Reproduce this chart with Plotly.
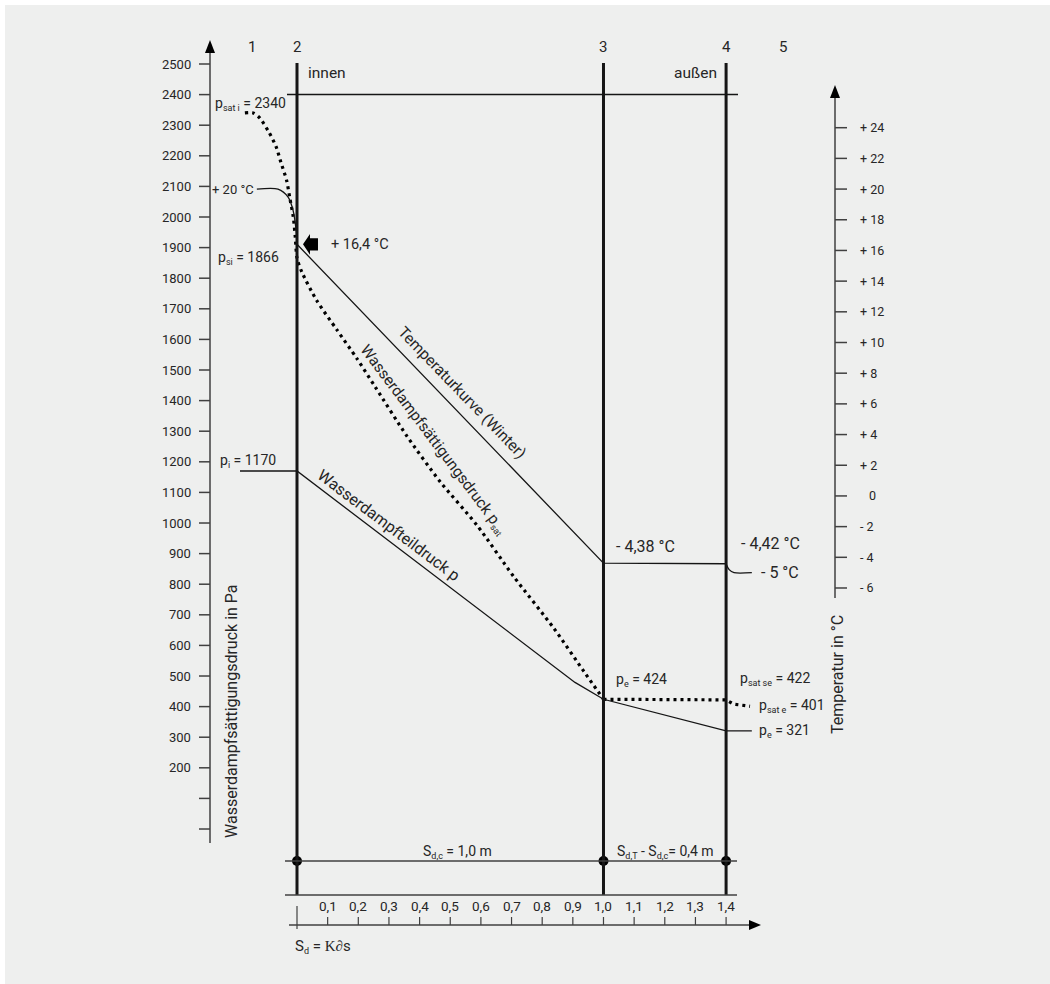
import plotly.graph_objects as go

W, H = 1050, 984

# ---------------- data ----------------
# S_d positions of the layer boundaries (m) and the zone numbers
boundary_sd = [0.0, 1.0, 1.4]
boundary_labels = ["2", "3", "4"]
zone_sd = [-0.147, 1.586]
zone_labels = ["1", "5"]

pressure_ticks = [0, 100, 200, 300, 400, 500, 600, 700, 800, 900, 1000, 1100, 1200,
                  1300, 1400, 1500, 1600, 1700, 1800, 1900, 2000, 2100, 2200, 2300,
                  2400, 2500]
pressure_tick_labels = ["", "", "200", "300", "400", "500", "600", "700", "800", "900",
                        "1000", "1100", "1200", "1300", "1400", "1500", "1600", "1700",
                        "1800", "1900", "2000", "2100", "2200", "2300", "2400", "2500"]

temp_ticks = [24, 22, 20, 18, 16, 14, 12, 10, 8, 6, 4, 2, 0, -2, -4, -6]
temp_tick_labels = ["+ 24", "+ 22", "+ 20", "+ 18", "+ 16", "+ 14", "+ 12", "+ 10",
                    "+ 8", "+ 6", "+ 4", "+ 2", "0", "- 2", "- 4", "- 6"]

sd_ticks = [0.1, 0.2, 0.3, 0.4, 0.5, 0.6, 0.7, 0.8, 0.9, 1.0, 1.1, 1.2, 1.3, 1.4]
sd_tick_labels = ["0,1", "0,2", "0,3", "0,4", "0,5", "0,6", "0,7", "0,8", "0,9",
                  "1,0", "1,1", "1,2", "1,3", "1,4"]

# temperature profile (°C)
temp_room_sd = [-0.131, -0.062, -0.029, -0.013, -0.003, 0.0]
temp_room_T = [20.0, 20.0, 19.48, 18.63, 17.32, 16.4]
temp_wall_sd = [0.0, 1.0, 1.4]
temp_wall_T = [16.4, -4.38, -4.42]
temp_out_sd = [1.4, 1.41, 1.426, 1.484]
temp_out_T = [-4.42, -4.8, -5.0, -5.0]

# saturation vapour pressure (Pa)
psat_sd = [-0.170, -0.143, -0.121, -0.0915, -0.0686, -0.0523, -0.0337, -0.0229,
           -0.0121, -0.0056, 0.0, 0.0154, 0.0644, 0.1297, 0.195, 0.255, 0.358,
           0.467, 0.587, 0.707, 0.838, 0.936, 1.0]
psat_val = [2340, 2340, 2323, 2277, 2231, 2178, 2119, 2059, 2000, 1934, 1866, 1821,
            1727, 1632, 1538, 1445, 1285, 1135, 993, 825, 656, 515, 424]
psat_out_sd = [1.0, 1.4, 1.425, 1.478]
psat_out_val = [424, 422, 408, 401]

# partial vapour pressure (Pa)
p_sd = [-0.186, 0.0, 0.907, 1.0, 1.4, 1.484]
p_val = [1170, 1170, 479, 424, 321, 321]

# ---------------- scales ----------------
X_RANGE = [-0.9690, 2.4568]       # S_d in m
P_RANGE = [-506.5, 2709.15]       # pressure in Pa
T_RANGE = [-31.81, 32.323]        # temperature in °C

INK = "#262626"
LINE = "#151515"
AXIS = "#404040"
FONT = "Roboto"


def px(xp):
    return xp / W


def py(yp):
    return 1 - yp / H


def pa_at(yp):
    return P_RANGE[1] - yp / H * (P_RANGE[1] - P_RANGE[0])


def sub(txt, size=9):
    # lowered, smaller index text
    return f"<span style='font-size:{size}px;baseline-shift:-3px'>{txt}</span>"


fig = go.Figure()

# curves
fig.add_trace(go.Scatter(x=temp_room_sd, y=temp_room_T, yaxis="y2", mode="lines",
                         line=dict(color=LINE, width=1.3, shape="spline", smoothing=0.8)))
fig.add_trace(go.Scatter(x=temp_wall_sd, y=temp_wall_T, yaxis="y2", mode="lines",
                         line=dict(color=LINE, width=1.3)))
fig.add_trace(go.Scatter(x=temp_out_sd, y=temp_out_T, yaxis="y2", mode="lines",
                         line=dict(color=LINE, width=1.3, shape="spline", smoothing=0.8)))
fig.add_trace(go.Scatter(x=psat_sd, y=psat_val, mode="lines",
                         line=dict(color="#000000", width=3.2, dash="3px,4px",
                                   shape="spline", smoothing=0.7)))
fig.add_trace(go.Scatter(x=psat_out_sd, y=psat_out_val, mode="lines",
                         line=dict(color="#000000", width=3.2, dash="3px,4px")))
fig.add_trace(go.Scatter(x=p_sd, y=p_val, mode="lines",
                         line=dict(color=LINE, width=1.3)))

# boundary nodes on the S_d reference line
fig.add_trace(go.Scatter(x=boundary_sd, y=[pa_at(861)] * len(boundary_sd), mode="markers",
                         marker=dict(color="#000000", size=10)))

shapes = []
ann = []

# background panel
shapes.append(dict(type="rect", xref="paper", yref="paper", x0=px(5), x1=1, y0=0, y1=py(5),
                   fillcolor="#eeefee", line=dict(width=0), layer="below"))

# layer boundaries
for sd in boundary_sd:
    shapes.append(dict(type="line", xref="x", yref="paper", x0=sd, x1=sd,
                       y0=py(895), y1=py(63), line=dict(color=LINE, width=3)))

# horizontal reference lines
shapes.append(dict(type="line", xref="paper", yref="y", x0=px(287), x1=px(738),
                   y0=2400, y1=2400, line=dict(color=LINE, width=1.5)))
for yl in (861, 895):
    shapes.append(dict(type="line", xref="paper", yref="paper", x0=px(285), x1=px(737),
                       y0=py(yl), y1=py(yl), line=dict(color=AXIS, width=1.5)))

# left pressure axis
shapes.append(dict(type="line", xref="paper", yref="paper", x0=px(210), x1=px(210),
                   y0=py(843), y1=py(50), line=dict(color=AXIS, width=1.5)))
shapes.append(dict(type="path", xref="paper", yref="paper",
                   path=f"M {px(210)} {py(40)} L {px(205)} {py(53)} L {px(215)} {py(53)} Z",
                   fillcolor="#000000", line=dict(width=0)))
for v, lab in zip(pressure_ticks, pressure_tick_labels):
    shapes.append(dict(type="line", xref="paper", yref="y", x0=px(199), x1=px(210),
                       y0=v, y1=v, line=dict(color=AXIS, width=1.5)))
    if lab:
        ann.append(dict(text=lab, xref="paper", yref="y", x=px(193), y=v,
                        xanchor="right", yanchor="middle", font=dict(size=13)))

# right temperature axis
shapes.append(dict(type="line", xref="paper", yref="paper", x0=px(835), x1=px(835),
                   y0=py(598), y1=py(95), line=dict(color=AXIS, width=1.5)))
shapes.append(dict(type="path", xref="paper", yref="paper",
                   path=f"M {px(835)} {py(85)} L {px(830)} {py(98)} L {px(840)} {py(98)} Z",
                   fillcolor="#000000", line=dict(width=0)))
for t, lab in zip(temp_ticks, temp_tick_labels):
    shapes.append(dict(type="line", xref="paper", yref="y2", x0=px(835), x1=px(847),
                       y0=t, y1=t, line=dict(color=AXIS, width=1.5)))
    ann.append(dict(text=lab, xref="paper", yref="y2", x=px(867 if t == 0 else 858), y=t,
                    xanchor="left", yanchor="middle", font=dict(size=12.5)))

# bottom S_d axis
shapes.append(dict(type="line", xref="paper", yref="paper", x0=px(289), x1=px(752),
                   y0=py(925), y1=py(925), line=dict(color=AXIS, width=1.5)))
shapes.append(dict(type="path", xref="paper", yref="paper",
                   path=f"M {px(761)} {py(925)} L {px(749)} {py(920)} L {px(749)} {py(930)} Z",
                   fillcolor="#000000", line=dict(width=0)))
shapes.append(dict(type="line", xref="x", yref="paper", x0=0, x1=0,
                   y0=py(929), y1=py(906), line=dict(color=AXIS, width=1.2)))
for s, lab in zip(sd_ticks, sd_tick_labels):
    shapes.append(dict(type="line", xref="x", yref="paper", x0=s, x1=s,
                       y0=py(925), y1=py(917), line=dict(color=AXIS, width=1.2)))
    ann.append(dict(text=lab, xref="x", yref="paper", x=s, y=py(906),
                    xanchor="center", yanchor="middle", font=dict(size=13.5)))

# arrow marking the inner surface temperature
ax0, ax1, ax2 = 0.0196, 0.0424, 0.0685
shapes.append(dict(type="path", xref="x", yref="y2",
                   path=(f"M {ax0} 16.4 L {ax1} {16.4 + 0.68} L {ax1} {16.4 + 0.4} "
                         f"L {ax2} {16.4 + 0.4} L {ax2} {16.4 - 0.4} L {ax1} {16.4 - 0.4} "
                         f"L {ax1} {16.4 - 0.68} Z"),
                   fillcolor="#000000", line=dict(width=0)))

# zone numbers and side names
for sd, lab in zip(boundary_sd + zone_sd, boundary_labels + zone_labels):
    ann.append(dict(text=lab, xref="x", yref="paper", x=sd, y=py(47),
                    xanchor="center", yanchor="middle", font=dict(size=15)))
ann.append(dict(text="innen", xref="paper", yref="paper", x=px(306), y=py(73),
                xanchor="left", yanchor="middle", font=dict(size=15.5)))
ann.append(dict(text="außen", xref="paper", yref="paper", x=px(719), y=py(73),
                xanchor="right", yanchor="middle", font=dict(size=15.5)))

# axis titles
ann.append(dict(text="Wasserdampfsättigungsdruck in Pa", xref="paper", yref="paper",
                x=px(231), y=py(711), textangle=-90, xanchor="center", yanchor="middle",
                font=dict(size=16)))
ann.append(dict(text="Temperatur in °C", xref="paper", yref="paper",
                x=px(837), y=py(675), textangle=-90, xanchor="center", yanchor="middle",
                font=dict(size=16)))

# value labels
ann += [
    dict(text="p" + sub("sat i") + " = 2340", xref="paper", yref="y", x=px(288), y=2340,
         yshift=9, xanchor="right", font=dict(size=14)),
    dict(text="+ 20 °C", xref="paper", yref="y2", x=px(256), y=20, xanchor="right",
         font=dict(size=13)),
    dict(text="+ 16,4 °C", xref="paper", yref="y2", x=px(329), y=16.4, xanchor="left",
         font=dict(size=14.5)),
    dict(text="p" + sub("si") + " = 1866", xref="paper", yref="y", x=px(281), y=1866,
         xanchor="right", font=dict(size=14)),
    dict(text="p" + sub("i") + " = 1170", xref="paper", yref="y", x=px(278), y=1170,
         yshift=10, xanchor="right", font=dict(size=14)),
    dict(text="- 4,38 °C", xref="paper", yref="y2", x=px(614), y=-4.38, yshift=17,
         xanchor="left", font=dict(size=16)),
    dict(text="- 4,42 °C", xref="paper", yref="y2", x=px(739), y=-4.42, yshift=20,
         xanchor="left", font=dict(size=16)),
    dict(text="- 5 °C", xref="paper", yref="y2", x=px(759), y=-5, xanchor="left",
         font=dict(size=16)),
    dict(text="p" + sub("e") + " = 424", xref="paper", yref="y", x=px(614), y=424,
         yshift=19, xanchor="left", font=dict(size=14)),
    dict(text="p" + sub("sat se") + " = 422", xref="paper", yref="y", x=px(738), y=422,
         yshift=21, xanchor="left", font=dict(size=14)),
    dict(text="p" + sub("sat e") + " = 401", xref="paper", yref="y", x=px(757), y=401,
         xanchor="left", font=dict(size=14)),
    dict(text="p" + sub("e") + " = 321", xref="paper", yref="y", x=px(757), y=321,
         xanchor="left", font=dict(size=14)),
]

# curve names written along the curves
ann += [
    dict(text="Temperaturkurve (Winter)", xref="x", yref="y2", x=0.5, y=6.01,
         xshift=12, yshift=11, textangle=46, xanchor="center", yanchor="middle",
         font=dict(size=15.5)),
    dict(text="Wasserdampfsättigungsdruck p" + sub("sat"), xref="x", yref="y", x=0.44,
         y=1172, xshift=2, yshift=30, textangle=53, xanchor="center", yanchor="middle",
         font=dict(size=15.5)),
    dict(text="Wasserdampfteildruck p", xref="x", yref="y", x=0.2773, y=958.7,
         xshift=7, yshift=10, textangle=37, xanchor="center", yanchor="middle",
         font=dict(size=16)),
]

# S_d annotations
ann += [
    dict(text="S" + sub("d,c") + " = 1,0 m", xref="paper", yref="paper", x=px(457),
         y=py(852), xanchor="center", font=dict(size=14)),
    dict(text="S" + sub("d,T") + " - S" + sub("d,c") + "= 0,4 m", xref="paper",
         yref="paper", x=px(665), y=py(852), xanchor="center", font=dict(size=14)),
    dict(text="S" + sub("d") + " = <span style='font-family:Liberation Serif'>K∂</span>s",
         xref="paper", yref="paper", x=px(293), y=py(946), xanchor="left",
         font=dict(size=15)),
]

for a in ann:
    a.setdefault("showarrow", False)
    a.setdefault("yanchor", "middle")
    a.setdefault("font", dict(size=14))
    a["font"] = dict(family=FONT, color=INK, **a["font"])

fig.update_layout(
    width=W, height=H,
    margin=dict(l=0, r=0, t=0, b=0),
    paper_bgcolor="#ffffff",
    plot_bgcolor="rgba(0,0,0,0)",
    showlegend=False,
    font=dict(family=FONT, color=INK),
    xaxis=dict(range=X_RANGE, visible=False, fixedrange=True),
    yaxis=dict(range=P_RANGE, visible=False, fixedrange=True),
    yaxis2=dict(range=T_RANGE, visible=False, overlaying="y", fixedrange=True),
    shapes=shapes,
    annotations=ann,
)

fig.write_html("out.html")
